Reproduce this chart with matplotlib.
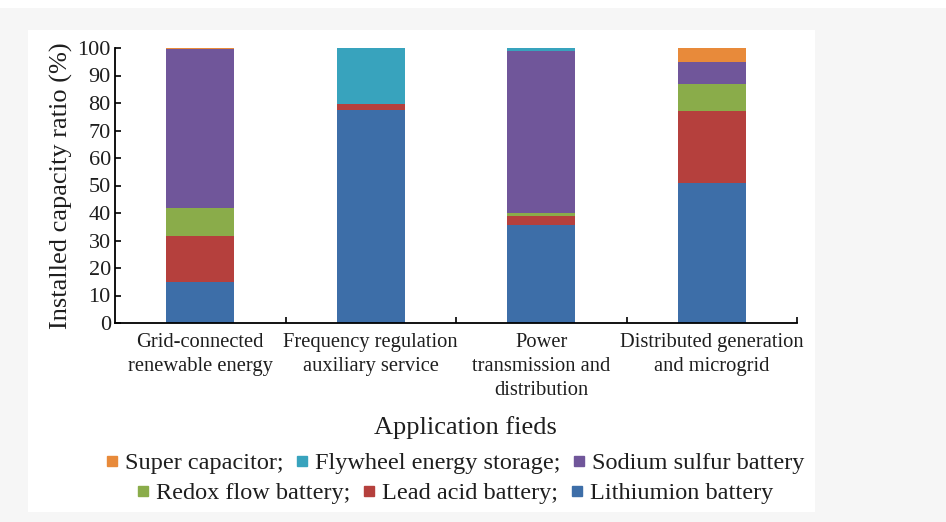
import matplotlib.pyplot as plt
from matplotlib.lines import Line2D
from matplotlib.patches import Rectangle
import numpy as np

# application fields on the x axis
fields = ["Grid-connected\nrenewable energy",
          "Frequency regulation\nauxiliary service",
          "Power\ntransmission and\ndistribution",
          "Distributed generation\nand microgrid"]

# installed capacity share (%) per storage technology, bottom to top
lithium = [15, 77.5, 35.5, 51]
lead_acid = [16.5, 2, 3.5, 26]
redox_flow = [10.5, 0, 1, 10]
sodium_sulfur = [57.5, 0, 59, 8]
flywheel = [0, 20.5, 1, 0]
super_cap = [0.5, 0, 0, 5]

series = [
    ("Lithiumion battery", lithium, "#3d6ea8"),
    ("Lead acid battery;", lead_acid, "#b5403d"),
    ("Redox flow battery;", redox_flow, "#8aac4a"),
    ("Sodium sulfur battery", sodium_sulfur, "#70569a"),
    ("Flywheel energy storage;", flywheel, "#38a3bd"),
    ("Super capacitor;", super_cap, "#e88a3a"),
]

plt.rcParams['font.family'] = ['Liberation Serif', 'DejaVu Serif']
txt = '#1e1e1e'

fig = plt.figure(figsize=(9.46, 5.22), dpi=100)
fig.patch.set_facecolor('#f6f6f6')
# white strip on top and white panel behind the chart
fig.add_artist(Rectangle((0, 1 - 8 / 522), 1, 8 / 522, transform=fig.transFigure,
                         facecolor='white', edgecolor='none', zorder=-10))
fig.add_artist(Rectangle((28 / 946, 1 - 512 / 522), (815 - 28) / 946, (512 - 30) / 522,
                         transform=fig.transFigure, facecolor='white', edgecolor='none', zorder=-10))

ax = fig.add_axes([115 / 946, 1 - 323 / 522, (797 - 115) / 946, (323 - 48) / 522])
ax.set_facecolor('none')

x = np.arange(len(fields))
bottom = np.zeros(len(fields))
for name, vals, color in series:
    vals = np.array(vals, dtype=float)
    ax.bar(x, vals, 0.4, bottom=bottom, color=color, edgecolor='none')
    bottom += vals

ax.set_xlim(-0.5, 3.5)
ax.set_ylim(0, 100)
ax.set_yticks(np.arange(0, 101, 10))
ax.set_xticks(np.arange(0.5, 4, 1))
ax.set_xticklabels([])
ax.set_xticks(x, minor=True)
ax.set_xticklabels(fields, minor=True, fontsize=14.8, color=txt, linespacing=1.35)
ax.tick_params(axis='x', which='major', direction='in', length=4, width=1.2)
ax.tick_params(axis='x', which='minor', length=0, pad=7)
ax.tick_params(axis='y', direction='in', length=4, width=1.2, labelsize=16,
               labelcolor=txt, pad=3)
for s in ['top', 'right']:
    ax.spines[s].set_visible(False)
for s in ['left', 'bottom']:
    ax.spines[s].set_linewidth(1.3)

ax.set_ylabel("Installed capacity ratio (%)", fontsize=19, color=txt, labelpad=3)
fig.text(465 / 946, 1 - 428 / 522, "Application fieds", fontsize=19, color=txt,
         ha='center', va='center')

def handles(items):
    return [Line2D([], [], marker='s', linestyle='none', markersize=6.5,
                   color=c, label=n) for n, v, c in items]

row1 = [series[5], series[4], series[3]]
row2 = [series[2], series[1], series[0]]
for items, yc in [(row1, 463), (row2, 493)]:
    fig.legend(handles=handles(items), loc='center', ncol=3,
               bbox_to_anchor=(455 / 946, 1 - yc / 522), frameon=False,
               fontsize=17.5, labelcolor=txt, handlelength=0.5,
               handletextpad=0.3, columnspacing=0.5, borderpad=0)

fig.savefig('out.png', dpi=100, facecolor=fig.get_facecolor())
